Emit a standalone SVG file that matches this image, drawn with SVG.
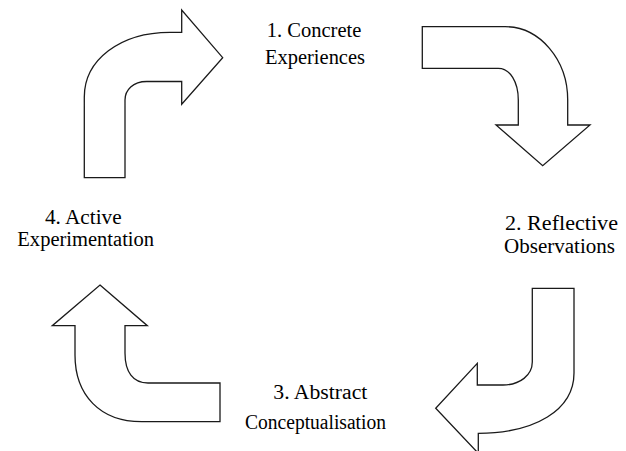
<svg xmlns="http://www.w3.org/2000/svg" width="626" height="451" viewBox="0 0 626 451">
  <style>
    .lbl { font-family: "Liberation Serif", "Times New Roman", serif; fill: #000; text-anchor: middle; }
    .arr { fill: #fff; stroke: #1a1a1a; stroke-width: 1.3; stroke-linejoin: miter; }
  </style>
  <rect x="0" y="0" width="626" height="451" fill="#fff"/>
  <g id="connectors">
    <path class="arr" d="M84.3,177.7 L84.3,97 C84.3,60 120,32.3 170,32.3 L181.7,32.3 L181.7,10 L222.7,57.7 L181.7,104.3 L181.7,81.5 L146.7,81.5 C133,81.5 125,90 125,100 L125,177.7 Z"/>
    <path class="arr" d="M422.3,26.7 L505,26.7 C540,26.7 567.7,60 567.7,100 L567.7,125 L590,125 L542.7,165.7 L496,125 L518.3,125 L518.3,100 C518.3,82 510,68.3 498.3,68.3 L422.3,68.3 Z"/>
    <path class="arr" d="M532.3,288.3 L574,288.3 L574,373 C574,410 535,433.3 478.3,433.3 L478.3,453.3 L435.7,408.3 L477.3,363.3 L477.3,385 L503,385 C520,385 532.3,375 532.3,362 Z"/>
    <path class="arr" d="M100,285 L147.3,325.7 L125,325.7 L125,353 C125,372 133,383 148,383 L220,383 L220,421.7 L141.7,421.7 C100,421.7 75,395 75,355 L75,325.7 L52.3,325.7 Z"/>
  </g>
  <g id="node1">
    <text class="lbl" x="314" y="37" font-size="20.5" textLength="94.7" lengthAdjust="spacingAndGlyphs">1. Concrete</text>
    <text class="lbl" x="315" y="64" font-size="20.5" textLength="100" lengthAdjust="spacingAndGlyphs">Experiences</text>
  </g>
  <g id="node2">
    <text class="lbl" x="561.5" y="230" font-size="20" textLength="113" lengthAdjust="spacingAndGlyphs">2. Reflective</text>
    <text class="lbl" x="559.5" y="253" font-size="20" textLength="111" lengthAdjust="spacingAndGlyphs">Observations</text>
  </g>
  <g id="node3">
    <text class="lbl" x="320.3" y="399" font-size="20.5" textLength="94" lengthAdjust="spacingAndGlyphs">3. Abstract</text>
    <text class="lbl" x="315.5" y="429" font-size="20" textLength="141" lengthAdjust="spacingAndGlyphs">Conceptualisation</text>
  </g>
  <g id="node4">
    <text class="lbl" x="83.3" y="224" font-size="20.5" textLength="76.7" lengthAdjust="spacingAndGlyphs">4. Active</text>
    <text class="lbl" x="85.7" y="246" font-size="20.5" textLength="136.7" lengthAdjust="spacingAndGlyphs">Experimentation</text>
  </g>
</svg>
